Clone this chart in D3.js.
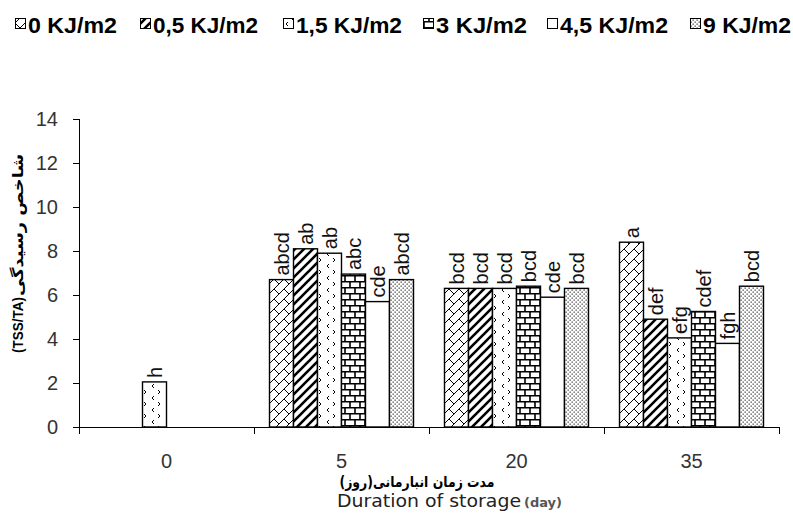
<!DOCTYPE html>
<html>
<head>
<meta charset="utf-8">
<script src="https://cdn.jsdelivr.net/npm/d3@7"></script>
<style>
  body { margin: 0; background: #fff; }
  svg { display: block; font-family: "Liberation Sans", Arial, sans-serif; }
</style>
</head>
<body>
<script>
const days = ["0", "5", "20", "35"];
const doses = ["0 KJ/m2", "0,5 KJ/m2", "1,5 KJ/m2", "3 KJ/m2", "4,5 KJ/m2", "9 KJ/m2"];

// one array per dose, values per storage day (null = no bar)
const dose0  = [null, 6.7, 6.3, 8.4];
const dose05 = [null, 8.1, 6.3, 4.9];
const dose15 = [2.05, 7.9, 6.3, 4.05];
const dose3  = [null, 6.95, 6.4, 5.25];
const dose45 = [null, 5.7, 5.9, 3.8];
const dose9  = [null, 6.7, 6.3, 6.4];

const letters0  = [null, "abcd", "bcd", "a"];
const letters05 = [null, "ab", "bcd", "def"];
const letters15 = ["h", "ab", "bcd", "efg"];
const letters3  = [null, "abc", "bcd", "cdef"];
const letters45 = [null, "cde", "cde", "fgh"];
const letters9  = [null, "abcd", "bcd", "bcd"];

const yTicks = [0, 2, 4, 6, 8, 10, 12, 14];

const seriesValues = [dose0, dose05, dose15, dose3, dose45, dose9];
const seriesLetters = [letters0, letters05, letters15, letters3, letters45, letters9];
const patternIds = ["p0", "p05", "p15", "p3", "p45", "p9"];

const W = 793, H = 519;
const margin = { top: 119, right: 14, bottom: 92, left: 79 };

const svg = d3.select("body").append("svg")
  .attr("width", W)
  .attr("height", H);

// fill patterns
const defs = svg.append("defs");

const pat0 = defs.append("pattern").attr("id", "p0")
  .attr("patternUnits", "userSpaceOnUse").attr("width", 10).attr("height", 10);
pat0.append("rect").attr("width", 10).attr("height", 10).attr("fill", "#fff");
pat0.append("path").attr("d", "M-1,11 L11,-1 M0,0 L5,5 M5,15 L10,10")
  .attr("stroke", "#000").attr("stroke-width", 1).attr("fill", "none");

const pat05 = defs.append("pattern").attr("id", "p05")
  .attr("patternUnits", "userSpaceOnUse").attr("width", 9).attr("height", 9);
pat05.append("rect").attr("width", 9).attr("height", 9).attr("fill", "#fff");
pat05.append("path").attr("d", "M-2,2 L2,-2 M0,9 L9,0 M7,11 L11,7")
  .attr("stroke", "#000").attr("stroke-width", 2.6).attr("fill", "none");

const pat15 = defs.append("pattern").attr("id", "p15")
  .attr("patternUnits", "userSpaceOnUse").attr("width", 14).attr("height", 12);
pat15.append("rect").attr("width", 14).attr("height", 12).attr("fill", "#fff");
pat15.append("path").attr("d", "M5,1 L3,3 L5,5 M9,7 L11,9 L9,11")
  .attr("stroke", "#000").attr("stroke-width", 1).attr("fill", "none");

const pat3 = defs.append("pattern").attr("id", "p3")
  .attr("patternUnits", "userSpaceOnUse").attr("width", 10).attr("height", 12);
pat3.append("rect").attr("width", 10).attr("height", 12).attr("fill", "#fff");
pat3.append("path").attr("d", "M0,0.75 H10 M0,6.75 H10 M1,0 V6 M6,6 V12")
  .attr("stroke", "#000").attr("stroke-width", 1.6).attr("fill", "none");

defs.append("pattern").attr("id", "p45")
  .attr("patternUnits", "userSpaceOnUse").attr("width", 4).attr("height", 4)
  .append("rect").attr("width", 4).attr("height", 4).attr("fill", "#fff");

const pat9 = defs.append("pattern").attr("id", "p9")
  .attr("patternUnits", "userSpaceOnUse").attr("width", 4).attr("height", 4);
pat9.append("rect").attr("width", 4).attr("height", 4).attr("fill", "#fff");
pat9.append("rect").attr("x", 0.5).attr("y", 0.5).attr("width", 1.3).attr("height", 1.3).attr("fill", "#444");
pat9.append("rect").attr("x", 2.5).attr("y", 2.5).attr("width", 1.3).attr("height", 1.3).attr("fill", "#444");

const innerW = W - margin.left - margin.right;
const innerH = H - margin.top - margin.bottom;

const g = svg.append("g").attr("transform", `translate(${margin.left},${margin.top})`);

const x0 = d3.scaleBand().domain(days).range([0, innerW]);
const x1 = d3.scaleBand().domain(doses)
  .range([x0.bandwidth() / 2 - 72, x0.bandwidth() / 2 + 72]);
const y = d3.scaleLinear().domain([0, 14]).range([innerH, 0]);

// y axis
g.append("g")
  .call(d3.axisLeft(y).tickValues(yTicks).tickSize(6).tickPadding(15))
  .call(ax => ax.select(".domain").attr("stroke", "#000").attr("d", `M0.5,${innerH}V0`))
  .call(ax => ax.selectAll(".tick line").attr("stroke", "#000"))
  .call(ax => ax.selectAll("text")
    .attr("font-size", 20).attr("fill", "#333")
    .attr("font-family", "'Liberation Sans', Arial, sans-serif"));

// bars
const rows = [];
days.forEach((d, i) => {
  doses.forEach((s, j) => {
    const v = seriesValues[j][i];
    if (v != null) rows.push({ day: d, dose: s, value: v, letter: seriesLetters[j][i], pat: patternIds[j] });
  });
});

const groups = g.selectAll(".grp")
  .data(days)
  .join("g")
  .attr("class", "grp")
  .attr("transform", d => `translate(${x0(d)},0)`);

groups.selectAll("rect")
  .data(d => rows.filter(r => r.day === d))
  .join("rect")
  .attr("x", r => x1(r.dose))
  .attr("y", r => y(r.value))
  .attr("width", x1.bandwidth())
  .attr("height", r => innerH - y(r.value))
  .attr("fill", r => `url(#${r.pat})`)
  .attr("stroke", "#000")
  .attr("stroke-width", 1.4);

groups.selectAll(".lbl")
  .data(d => rows.filter(r => r.day === d))
  .join("text")
  .attr("class", "lbl")
  .attr("transform", r => `translate(${x1(r.dose) + x1.bandwidth() / 2 + 7},${y(r.value) - 4}) rotate(-90)`)
  .attr("font-size", 20)
  .attr("fill", "#111")
  .text(r => r.letter);

// x axis
const xAxis = g.append("g").attr("transform", `translate(0,${innerH})`);
xAxis.append("path")
  .attr("d", `M0,0.5H${innerW}`)
  .attr("stroke", "#000").attr("stroke-width", 1.2);
xAxis.selectAll(".bt")
  .data(days.map(d => x0(d)).concat([innerW]))
  .join("line")
  .attr("class", "bt")
  .attr("x1", d => d + 0.5).attr("x2", d => d + 0.5)
  .attr("y1", 0).attr("y2", 7)
  .attr("stroke", "#000");
xAxis.selectAll(".xl")
  .data(days)
  .join("text")
  .attr("class", "xl")
  .attr("x", d => x0(d) + x0.bandwidth() / 2)
  .attr("y", 41)
  .attr("text-anchor", "middle")
  .attr("font-size", 20)
  .attr("fill", "#333")
  .text(d => d);

// axis titles
svg.append("text")
  .attr("x", 417).attr("y", 487)
  .attr("text-anchor", "middle")
  .attr("direction", "rtl")
  .attr("font-size", 15)
  .attr("font-weight", "bold")
  .attr("font-family", "'DejaVu Sans', sans-serif")
  .attr("fill", "#000")
  .attr("textLength", 155)
  .attr("lengthAdjust", "spacingAndGlyphs")
  .text("مدت زمان انبارمانی(روز)");

const dur = svg.append("text")
  .attr("x", 337).attr("y", 507)
  .attr("font-size", 17)
  .attr("fill", "#222")
  .attr("font-family", "'DejaVu Sans', sans-serif");
dur.append("tspan").attr("textLength", 184).attr("lengthAdjust", "spacingAndGlyphs")
  .text("Duration of storage");
dur.append("tspan").attr("font-size", 13).attr("font-weight", "bold").attr("fill", "#555")
  .attr("dx", 3).text("(day)");

svg.append("text")
  .attr("transform", "translate(23,353) rotate(-90)")
  .attr("font-size", 15)
  .attr("font-weight", "bold")
  .attr("fill", "#000")
  .attr("textLength", 56)
  .attr("lengthAdjust", "spacingAndGlyphs")
  .text("(TSS/TA)");

svg.append("text")
  .attr("transform", "translate(23,225) rotate(-90)")
  .attr("text-anchor", "middle")
  .attr("direction", "rtl")
  .attr("font-size", 15)
  .attr("font-weight", "bold")
  .attr("font-family", "'DejaVu Sans', sans-serif")
  .attr("fill", "#000")
  .attr("textLength", 142)
  .attr("lengthAdjust", "spacingAndGlyphs")
  .text("شاخص رسیدگی");

// legend
const legendX = [15, 140, 283, 423, 547, 690];
const legendW = [89, 105, 106, 91, 108, 88];
const legend = svg.append("g").attr("transform", "translate(0,33)");
const items = legend.selectAll("g")
  .data(doses)
  .join("g")
  .attr("transform", (d, i) => `translate(${legendX[i]},0)`);
items.append("rect")
  .attr("x", 0.5).attr("y", -14.5)
  .attr("width", 10).attr("height", 10)
  .attr("fill", (d, i) => `url(#${patternIds[i]})`)
  .attr("stroke", "#000");
items.append("text")
  .attr("x", 13).attr("y", 0)
  .attr("font-size", 22)
  .attr("font-weight", "bold")
  .attr("fill", "#000")
  .attr("textLength", (d, i) => legendW[i])
  .attr("lengthAdjust", "spacingAndGlyphs")
  .text(d => d);
</script>
</body>
</html>
